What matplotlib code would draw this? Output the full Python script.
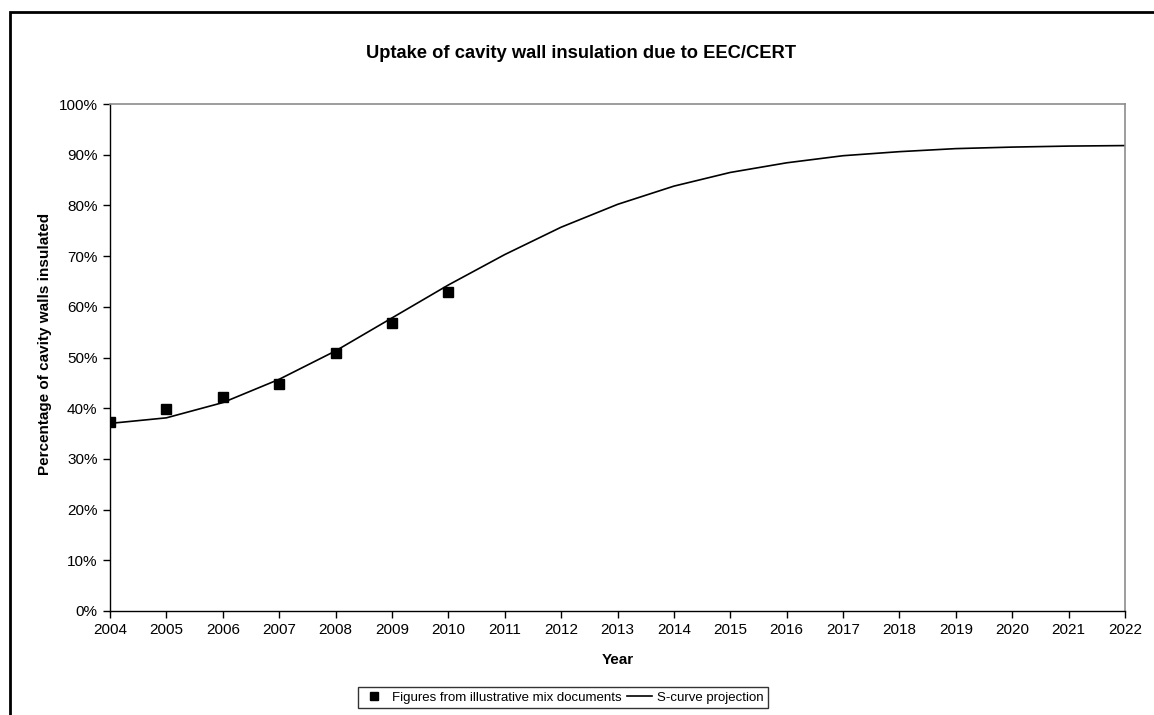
import matplotlib
matplotlib.use("Agg")
import matplotlib.pyplot as plt
from matplotlib.patches import Rectangle
from matplotlib.ticker import PercentFormatter

plt.rcParams['font.family'] = ['Liberation Sans', 'DejaVu Sans']

# Observed uptake figures
obs_years = [2004, 2005, 2006, 2007, 2008, 2009, 2010]
obs_pct = [37.2, 39.8, 42.2, 44.7, 50.8, 56.9, 63.0]

# S-curve projection
proj_years = list(range(2004, 2023))
proj_pct = [37.0, 38.1, 41.1, 45.7, 51.3, 57.8, 64.3, 70.3, 75.7, 80.2,
            83.8, 86.5, 88.4, 89.8, 90.6, 91.2, 91.5, 91.7, 91.8]

year_ticks = list(range(2004, 2023))
pct_ticks = list(range(0, 101, 10))

W, H = 1154, 715
fig = plt.figure(figsize=(W / 100, H / 100), dpi=100)
fig.patch.set_facecolor('white')

# outer chart border
fig.patches.append(Rectangle((10 / W, -0.05), (W + 20) / W, (H - 12) / H + 0.05,
                             transform=fig.transFigure, fill=False,
                             edgecolor='black', linewidth=2.0, zorder=0))

ax = fig.add_axes([110 / W, 1 - 611 / H, (1125 - 110) / W, (611 - 104) / H])

ax.plot(proj_years, proj_pct, color='black', linewidth=1.2,
        label='S-curve projection', zorder=2)
ax.plot(obs_years, obs_pct, linestyle='none', marker='s', markersize=7,
        color='black', label='Figures from illustrative mix documents', zorder=3)

ax.set_xlim(2004, 2022)
ax.set_ylim(0, 100)
ax.set_xticks(year_ticks)
ax.set_yticks(pct_ticks)
ax.yaxis.set_major_formatter(PercentFormatter(decimals=0))
ax.tick_params(axis='both', labelsize=11, length=5, width=1, color='black',
               direction='out', pad=4)

for side in ('top', 'right'):
    ax.spines[side].set_color('#8c8c8c')
    ax.spines[side].set_linewidth(1.2)
for side in ('left', 'bottom'):
    ax.spines[side].set_color('black')
    ax.spines[side].set_linewidth(1.0)

ax.set_xlabel('Year', fontsize=11, fontweight='bold', labelpad=11)
ax.set_ylabel('Percentage of cavity walls insulated', fontsize=11,
              fontweight='bold', labelpad=5)
ax.yaxis.label.set_y(0.527)

fig.text(366 / W, 1 - 53 / H, 'Uptake of cavity wall insulation due to EEC/CERT',
         ha='left', va='center', fontsize=13.2, fontweight='bold')

handles, labels = ax.get_legend_handles_labels()
leg = fig.legend(handles[::-1], labels[::-1], loc='center',
                 bbox_to_anchor=(563 / W, 1 - 697.5 / H), ncol=2, fontsize=9.5,
                 frameon=True, fancybox=False, edgecolor='black',
                 handlelength=1.9, handletextpad=0.4, columnspacing=0.4,
                 borderpad=0.3, markerscale=0.8)
leg.get_frame().set_linewidth(1.0)

fig.savefig('out.png', dpi=100)
